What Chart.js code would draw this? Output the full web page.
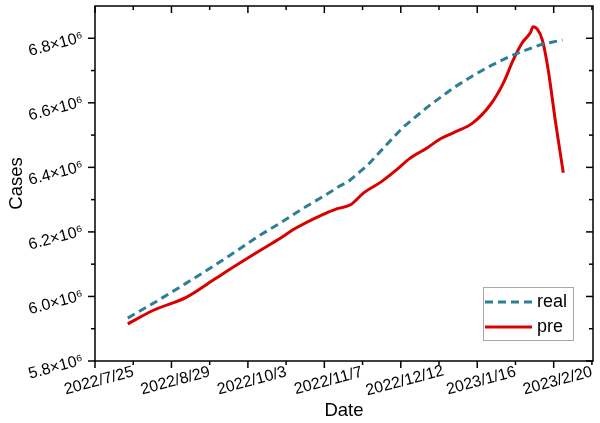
<!DOCTYPE html>
<html><head><meta charset="utf-8">
<script src="https://cdn.jsdelivr.net/npm/chart.js@4.4.1/dist/chart.umd.min.js"></script>
<style>html,body{margin:0;padding:0;background:#fff}#wrap{width:600px;height:423px;position:relative}</style>
</head><body><div id="wrap"><canvas id="c" width="600" height="423"></canvas></div>
<script>
// Day offsets are counted from 2022/7/25
const xTickDays = [0, 35, 70, 105, 140, 175, 210];
const xTickLabels = ['2022/7/25','2022/8/29','2022/10/3','2022/11/7','2022/12/12','2023/1/16','2023/2/20'];
const yTickValues = [5.8e6, 6.0e6, 6.2e6, 6.4e6, 6.6e6, 6.8e6];
const yTickLabels = ['5.8×10⁶','6.0×10⁶','6.2×10⁶','6.4×10⁶','6.6×10⁶','6.8×10⁶'];

const realDays  = [15, 27, 35, 42, 54, 65, 75, 84, 95, 105, 112, 116, 125, 134, 141, 152, 164, 173, 180, 190, 195, 204, 214];
const realCases = [5.933e6, 5.980e6, 6.013e6, 6.042e6, 6.093e6, 6.142e6, 6.188e6, 6.224e6, 6.272e6, 6.312e6, 6.342e6, 6.356e6, 6.408e6, 6.474e6, 6.524e6, 6.586e6, 6.646e6, 6.684e6, 6.711e6, 6.744e6, 6.758e6, 6.780e6, 6.795e6];

const preDays  = [15, 27, 42, 54, 65, 75, 85, 91, 103, 111, 117, 123, 131, 138, 144, 152, 158, 164, 173, 181, 187, 191.5, 195.6, 199.3, 200.6, 202.5, 204.8, 207.5, 210.7, 214.4];
const preCases = [5.915e6, 5.958e6, 5.998e6, 6.050e6, 6.098e6, 6.140e6, 6.181e6, 6.208e6, 6.250e6, 6.272e6, 6.284e6, 6.321e6, 6.355e6, 6.392e6, 6.427e6, 6.460e6, 6.488e6, 6.507e6, 6.538e6, 6.594e6, 6.662e6, 6.733e6, 6.786e6, 6.817e6, 6.836e6, 6.828e6, 6.795e6, 6.702e6, 6.547e6, 6.383e6];

const seriesNames = ['real', 'pre'];
const FONT = "'Liberation Sans', Arial, Helvetica, sans-serif";

const toPts = (xs, ys) => xs.map((d, i) => ({x: d, y: ys[i]}));

const decor = {
  id: 'decor',
  afterDraw(chart) {
    const {ctx, chartArea: {left, right, top, bottom}, scales: {x, y}} = chart;
    ctx.save();
    ctx.strokeStyle = '#000';
    ctx.lineWidth = 1.5;
    ctx.strokeRect(left, top, right - left, bottom - top);
    const line = (a, b, c, d) => { ctx.beginPath(); ctx.moveTo(a, b); ctx.lineTo(c, d); ctx.stroke(); };
    // x ticks
    xTickDays.forEach(d => {
      const px = x.getPixelForValue(d);
      line(px, bottom, px, bottom + 7);
      line(px, top, px, top + 7);
      const mp = x.getPixelForValue(d + 17.5);
      if (mp < right - 1) { line(mp, bottom, mp, bottom + 4); line(mp, top, mp, top + 4); }
    });
    // y ticks
    yTickValues.forEach(v => {
      const py = y.getPixelForValue(v);
      line(left - 7, py, left, py);
      line(right - 7, py, right, py);
      const mp = y.getPixelForValue(v + 1e5);
      if (mp > top + 1) { line(left - 4, mp, left, mp); line(right - 4, mp, right, mp); }
    });
    // tick labels
    ctx.fillStyle = '#000';
    ctx.font = '16px ' + FONT;
    const rot = -15 * Math.PI / 180;
    xTickDays.forEach((d, i) => {
      const px = x.getPixelForValue(d);
      ctx.save();
      ctx.translate(px + 4, bottom + 20);
      ctx.rotate(rot);
      ctx.textAlign = 'center'; ctx.textBaseline = 'middle';
      ctx.fillText(xTickLabels[i], 0, 0);
      ctx.restore();
    });
    yTickValues.forEach((v, i) => {
      const py = y.getPixelForValue(v);
      ctx.save();
      ctx.translate(left - 12, py - 1);
      ctx.rotate(rot);
      ctx.textAlign = 'right'; ctx.textBaseline = 'middle';
      ctx.fillText(yTickLabels[i], 0, 0);
      ctx.restore();
    });
    // legend
    const lx = 483, ly = 287, lw = 90, lh = 53;
    ctx.fillStyle = '#fff';
    ctx.fillRect(lx, ly, lw, lh);
    ctx.strokeStyle = '#a8a8a8';
    ctx.lineWidth = 1;
    ctx.strokeRect(lx + 0.5, ly + 0.5, lw, lh);
    chart.data.datasets.forEach((ds, i) => {
      const cy = ly + 15 + i * 25;
      ctx.strokeStyle = ds.borderColor;
      ctx.lineWidth = ds.borderWidth;
      ctx.setLineDash(ds.borderDash || []);
      line(lx + 2, cy, lx + 49, cy);
      ctx.setLineDash([]);
      ctx.fillStyle = '#000';
      ctx.font = '18px ' + FONT;
      ctx.textAlign = 'left'; ctx.textBaseline = 'middle';
      ctx.fillText(ds.label, lx + 54, cy);
    });
    ctx.restore();
  }
};

new Chart(document.getElementById('c'), {
  type: 'line',
  data: {
    datasets: [
      {label: seriesNames[0], data: toPts(realDays, realCases), borderColor: '#2e7e95', borderWidth: 3, borderDash: [8, 5], pointRadius: 0, fill: false, tension: 0},
      {label: seriesNames[1], data: toPts(preDays, preCases), borderColor: '#d90000', borderWidth: 3, pointRadius: 0, fill: false, cubicInterpolationMode: 'monotone'}
    ]
  },
  options: {
    responsive: false,
    animation: false,
    layout: {padding: {top: 6, right: 7, left: 0, bottom: 0}},
    plugins: {legend: {display: false}, tooltip: {enabled: false}},
    scales: {
      x: {
        type: 'linear', min: 0, max: 228,
        afterBuildTicks: s => { s.ticks = xTickDays.map(v => ({value: v})); },
        afterFit: s => { s.height = 62; },
        ticks: {display: false},
        grid: {display: false},
        border: {display: false},
        title: {display: true, text: 'Date', color: '#000', font: {family: FONT, size: 18.5}, padding: {top: 4, bottom: 1}}
      },
      y: {
        type: 'linear', min: 5.8e6, max: 6.9e6,
        afterBuildTicks: s => { s.ticks = yTickValues.map(v => ({value: v})); },
        afterFit: s => { s.width = 95; },
        ticks: {display: false},
        grid: {display: false},
        border: {display: false},
        title: {display: true, text: 'Cases', color: '#000', font: {family: FONT, size: 18.5}, padding: {top: 6, bottom: 4}}
      }
    }
  },
  plugins: [decor]
});
</script>
</body></html>
